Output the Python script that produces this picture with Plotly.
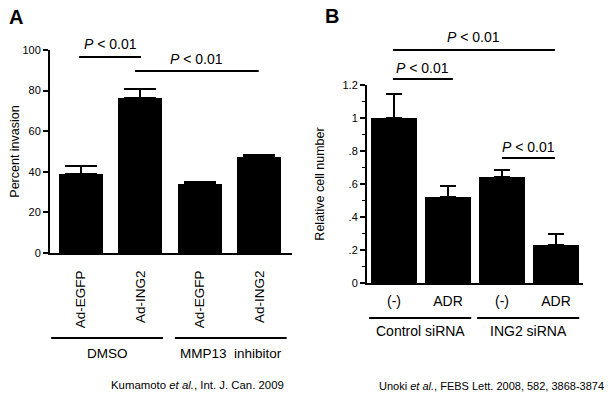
import plotly.graph_objects as go

# ---------------- data ----------------
a_labels = ["Ad-EGFP", "Ad-ING2", "Ad-EGFP", "Ad-ING2"]
a_values = [39, 76.5, 34, 47.5]
a_err = [4, 4.5, 1, 1]
a_groups = ["DMSO", "MMP13  inhibitor"]
a_yticks = [0, 20, 40, 60, 80, 100]

b_labels = ["(-)", "ADR", "(-)", "ADR"]
b_values = [1.0, 0.52, 0.645, 0.23]
b_err = [0.145, 0.07, 0.04, 0.065]
b_groups = ["Control siRNA", "ING2 siRNA"]
b_yticks = [0, 0.2, 0.4, 0.6, 0.8, 1.0, 1.2]
b_yticktext = ["0", ".2", ".4", ".6", ".8", "1", "1.2"]

pval = "<i>P</i> < 0.01"

FONT = "Arial, Liberation Sans, sans-serif"
W, H = 612, 400

fig = go.Figure()

fig.add_trace(go.Bar(
    x=list(range(len(a_values))), y=a_values, width=0.74,
    marker=dict(color="black", line=dict(width=0)),
    error_y=dict(type="data", array=a_err, arrayminus=[0] * 4, symmetric=False,
                 color="black", thickness=2, width=16),
    xaxis="x", yaxis="y", showlegend=False, hoverinfo="skip"))

fig.add_trace(go.Bar(
    x=list(range(len(b_values))), y=b_values, width=0.87,
    marker=dict(color="black", line=dict(width=0)),
    error_y=dict(type="data", array=b_err, arrayminus=[0] * 4, symmetric=False,
                 color="black", thickness=2, width=8),
    xaxis="x2", yaxis="y2", showlegend=False, hoverinfo="skip"))

def px_x(p):
    return p / W

def px_y(p):
    return (H - p) / H

A_XDOM = [px_x(50), px_x(292)]
A_XR = [-0.52, 3.55]
A_YDOM = [px_y(253), px_y(50)]
A_YR = [0, 100]
B_XDOM = [px_x(367), px_x(583)]
B_XR = [-0.5, 3.5]
B_YDOM = [px_y(283), px_y(85)]
B_YR = [0, 1.2]

def to_paper(v, dom, rng):
    return dom[0] + (v - rng[0]) / (rng[1] - rng[0]) * (dom[1] - dom[0])

axis_common = dict(showgrid=False, zeroline=False, showline=True, linecolor="black",
                   linewidth=2, fixedrange=True, automargin=False)

fig.update_layout(
    width=W, height=H, margin=dict(l=0, r=0, t=0, b=0, pad=0, autoexpand=False),
    paper_bgcolor="white", plot_bgcolor="white",
    font=dict(family=FONT, color="black"),
    bargap=0,
    xaxis=dict(domain=A_XDOM, range=A_XR, anchor="y",
               tickvals=list(range(4)), ticktext=a_labels, tickangle=-90,
               ticks="", ticklabelstandoff=10, tickfont=dict(size=13.5), **axis_common),
    yaxis=dict(domain=A_YDOM, range=A_YR, anchor="x",
               tickvals=a_yticks, ticks="outside", ticklen=5, tickwidth=2, tickcolor="black",
               tickfont=dict(size=11),
               title=dict(text="Percent invasion", font=dict(size=12.5), standoff=0),
               **axis_common),
    xaxis2=dict(domain=B_XDOM, range=B_XR, anchor="y2",
                tickvals=list(range(4)), ticktext=b_labels,
                ticks="", ticklabelstandoff=4, tickfont=dict(size=14), **axis_common),
    yaxis2=dict(domain=B_YDOM, range=B_YR, anchor="x2",
                tickvals=b_yticks, ticktext=b_yticktext, ticks="outside", ticklen=5,
                tickwidth=2, tickcolor="black", tickfont=dict(size=11),
                minor=dict(dtick=0.1, ticks="outside", ticklen=3, tickwidth=1.5, tickcolor="black"),
                title=dict(text="Relative cell number", font=dict(size=12.5), standoff=15),
                **axis_common),
)

shapes = []
annos = []

def sig(xdom, xr, ydom, yr, x0, x1, y, ty):
    px0, px1 = to_paper(x0, xdom, xr), to_paper(x1, xdom, xr)
    py = to_paper(y, ydom, yr)
    shapes.append(dict(type="line", xref="paper", yref="paper", x0=px0, x1=px1, y0=py, y1=py,
                       line=dict(color="black", width=2)))
    annos.append(dict(xref="paper", yref="paper", x=(px0 + px1) / 2, y=to_paper(ty, ydom, yr),
                      text=pval, showarrow=False, font=dict(size=14),
                      xanchor="center", yanchor="middle"))

# panel A significance
sig(A_XDOM, A_XR, A_YDOM, A_YR, -0.03, 1.01, 96.5, 103)
sig(A_XDOM, A_XR, A_YDOM, A_YR, 0.91, 2.99, 89.7, 95.8)
# panel B significance
sig(B_XDOM, B_XR, B_YDOM, B_YR, -0.02, 2.98, 1.412, 1.49)
sig(B_XDOM, B_XR, B_YDOM, B_YR, -0.02, 1.09, 1.236, 1.305)
sig(B_XDOM, B_XR, B_YDOM, B_YR, 2.0, 2.98, 0.758, 0.825)

# group lines / labels
def group(xdom, xr, x0, x1, yline, ytext, label, size):
    px0, px1 = to_paper(x0, xdom, xr), to_paper(x1, xdom, xr)
    shapes.append(dict(type="line", xref="paper", yref="paper", x0=px0, x1=px1,
                       y0=px_y(yline), y1=px_y(yline), line=dict(color="black", width=2)))
    annos.append(dict(xref="paper", yref="paper", x=(px0 + px1) / 2, y=px_y(ytext), text=label,
                      showarrow=False, font=dict(size=size), xanchor="center", yanchor="middle"))

group(A_XDOM, A_XR, -0.50, 1.38, 338, 353, a_groups[0], 13.5)
group(A_XDOM, A_XR, 1.58, 3.46, 338, 353, a_groups[1], 13.5)
group(B_XDOM, B_XR, -0.46, 1.43, 318, 331, b_groups[0], 14)
group(B_XDOM, B_XR, 1.54, 3.43, 318, 331, b_groups[1], 14)

# panel letters
annos.append(dict(xref="paper", yref="paper", x=px_x(15.5), y=px_y(17), text="<b>A</b>",
                  showarrow=False, font=dict(size=20), xanchor="center", yanchor="middle"))
annos.append(dict(xref="paper", yref="paper", x=px_x(332), y=px_y(16), text="<b>B</b>",
                  showarrow=False, font=dict(size=20), xanchor="center", yanchor="middle"))

# captions
annos.append(dict(xref="paper", yref="paper", x=px_x(109), y=px_y(385), xanchor="left",
                  yanchor="middle",
                  text="Kumamoto <i>et al.</i>, Int. J. Can. 2009", showarrow=False,
                  font=dict(size=11.4)))
annos.append(dict(xref="paper", yref="paper", x=px_x(377), y=px_y(386), xanchor="left",
                  yanchor="middle",
                  text="Unoki <i>et al.</i>, FEBS Lett. 2008, 582, 3868-3874", showarrow=False,
                  font=dict(size=11)))

fig.update_layout(shapes=shapes, annotations=annos)

fig.write_html("out.html",
               config={"displayModeBar": False, "staticPlot": True},
               post_script="document.body.style.margin='0';document.body.style.overflow='hidden';")
